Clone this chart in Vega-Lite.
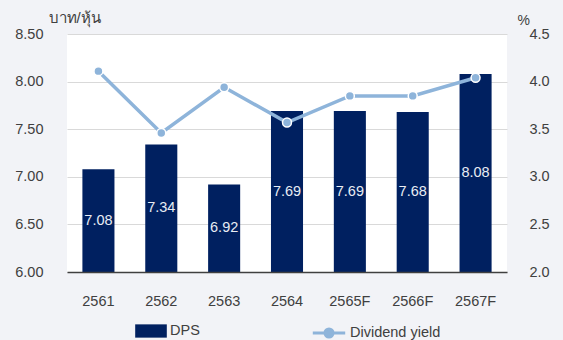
{
  "$schema": "https://vega.github.io/schema/vega-lite/v6.json",
  "width": 440,
  "height": 238,
  "autosize": "none",
  "padding": {"left": 67, "top": 34, "right": 56, "bottom": 68},
  "background": "#f2f3f7",
  "config": {
    "view": {"fill": "white", "stroke": null},
    "font": "Liberation Sans, Noto Sans, DejaVu Sans, sans-serif",
    "axis": {"labelFontSize": 14.5, "labelColor": "#404040", "titleFontSize": 14, "titleFontWeight": "normal", "titleColor": "#404040", "tickSize": 0, "ticks": false},
    "legend": {"labelFontSize": 14.5, "labelColor": "#404040"}
  },
  "data": {
    "values": [
      {"year": "2561", "dps": 7.08, "yield": 4.11},
      {"year": "2562", "dps": 7.34, "yield": 3.46},
      {"year": "2563", "dps": 6.92, "yield": 3.94},
      {"year": "2564", "dps": 7.69, "yield": 3.57},
      {"year": "2565F", "dps": 7.69, "yield": 3.85},
      {"year": "2566F", "dps": 7.68, "yield": 3.85},
      {"year": "2567F", "dps": 8.08, "yield": 4.04}
    ]
  },
  "encoding": {
    "x": {
      "field": "year", "type": "ordinal", "sort": null,
      "scale": {"paddingInner": 0.49, "paddingOuter": 0.245},
      "axis": {"title": null, "labelAngle": 0, "domain": true, "domainColor": "#404040", "domainWidth": 1.5, "labelPadding": 22, "grid": false, "zindex": 1}
    }
  },
  "layer": [
    {
      "encoding": {
        "y": {
          "field": "dps", "type": "quantitative",
          "scale": {"domain": [6, 8.5], "zero": false, "nice": false},
          "axis": {"values": [6, 6.5, 7, 7.5, 8, 8.5], "format": ".2f", "domain": false, "grid": true, "gridColor": "#d9d9d9", "gridWidth": 1.2, "labelPadding": 24, "title": "บาท/หุ้น", "titleAngle": 0, "titleAlign": "left", "titleBaseline": "alphabetic", "titleFontSize": 15, "titleX": -19, "titleY": -12}
        }
      },
      "layer": [
        {
          "mark": {"type": "bar", "color": "#002060"},
          "encoding": {
            "y2": {"datum": 6},
            "color": {"datum": "DPS", "scale": {"range": ["#002060"]}, "legend": {"orient": "none", "legendX": 68, "legendY": 281, "title": null, "symbolType": "M-1,-0.42H1V0.42H-1Z", "symbolSize": 1000, "symbolStrokeWidth": 0, "labelOffset": 3}}
          }
        },
        {
          "transform": [{"calculate": "(datum.dps + 6) / 2", "as": "mid"}],
          "mark": {"type": "text", "color": "#e8ecf3", "fontSize": 14.5},
          "encoding": {
            "y": {"field": "mid", "type": "quantitative"},
            "text": {"field": "dps", "type": "quantitative", "format": ".2f"}
          }
        }
      ]
    },
    {
      "encoding": {
        "y": {
          "field": "yield", "type": "quantitative",
          "scale": {"domain": [2, 4.5], "zero": false, "nice": false},
          "axis": {"orient": "right", "values": [2, 2.5, 3, 3.5, 4, 4.5], "format": ".1f", "domain": false, "grid": false, "labelPadding": 22, "title": "%", "titleAngle": 0, "titleAlign": "left", "titleBaseline": "alphabetic", "titleX": 10, "titleY": -10}
        },
        "color": {"datum": "Dividend yield", "scale": {"range": ["#8EB4DA"]}, "legend": {"orient": "none", "legendX": 244, "legendY": 281, "title": null, "symbolType": "M-1,0H1M-0.25,0A0.25,0.25 0 1,0 0.25,0A0.25,0.25 0 1,0 -0.25,0Z", "symbolSize": 1050, "symbolStrokeWidth": 3, "symbolFillColor": "#8EB4DA", "symbolStrokeColor": "#8EB4DA", "labelOffset": 3}}
      },
      "layer": [
        {"mark": {"type": "line", "strokeWidth": 3.5}},
        {"mark": {"type": "point", "filled": true, "size": 80, "stroke": "white", "strokeWidth": 1.5, "opacity": 1}}
      ]
    }
  ],
  "resolve": {"scale": {"y": "independent", "color": "independent"}}
}
